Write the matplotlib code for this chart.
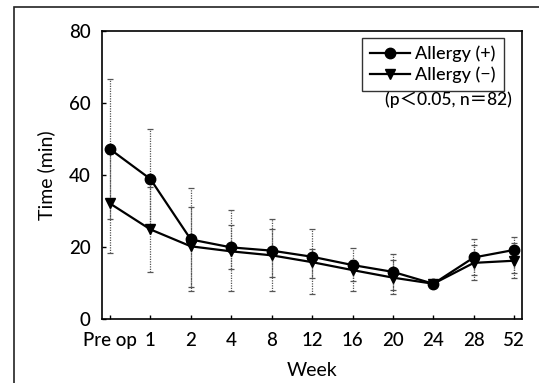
import numpy as np
import matplotlib
matplotlib.use("Agg")
import matplotlib.pyplot as plt
from matplotlib.patches import Rectangle

# data
weeks = ["Pre op", "1", "2", "4", "8", "12", "16", "20", "24", "28", "52"]

pos_mean = [47.2, 38.9, 22.1, 19.9, 19.0, 17.3, 15.0, 13.1, 9.8, 17.1, 19.2]
pos_low = [27.8, 25.0, 7.9, 7.9, 7.9, 6.9, 7.9, 8.0, 9.8, 12.2, 12.7]
pos_high = [66.6, 52.8, 36.3, 30.3, 27.8, 24.9, 19.6, 18.2, 9.8, 22.1, 22.9]

neg_mean = [32.1, 24.9, 20.2, 18.8, 17.7, 15.8, 13.6, 11.5, 9.8, 15.6, 16.2]
neg_low = [18.4, 13.1, 9.0, 13.9, 11.6, 11.5, 10.5, 6.9, 9.8, 10.8, 11.3]
neg_high = [45.8, 36.7, 31.2, 26.1, 25.0, 19.5, 16.5, 16.5, 9.8, 20.5, 21.2]

plt.rcParams['font.family'] = ['Lato', 'Noto Sans CJK JP', 'DejaVu Sans']
plt.rcParams['font.weight'] = 'medium'

fig = plt.figure(figsize=(5.39, 3.83), dpi=100)
ax = fig.add_axes([0.189, 0.167, 0.78, 0.752])

x = np.arange(len(weeks))


def draw(mean, low, high, marker, label):
    mean = np.array(mean)
    yerr = [mean - np.array(low), np.array(high) - mean]
    eb = ax.errorbar(x, mean, yerr=yerr, fmt="none", ecolor="#555555",
                     elinewidth=0.9, capsize=2.2, capthick=0.9, zorder=1)
    for c in eb[2]:
        c.set_linestyle((0, (1, 1)))
    ax.plot(x, mean, color="black", lw=1.6, marker=marker, ms=7.5,
            label=label, zorder=3)


draw(pos_mean, pos_low, pos_high, "o", "Allergy (+)")
draw(neg_mean, neg_low, neg_high, "v", "Allergy (−)")

ax.set_xlim(-0.2, 10.2)
ax.set_ylim(0, 80)
ax.set_yticks([0, 20, 40, 60, 80])
ax.set_xticks(x)
ax.set_xticklabels(weeks)
ax.tick_params(direction="in", length=3, width=1, labelsize=13.5, pad=9)
ax.tick_params(axis="y", pad=8)
for s in ax.spines.values():
    s.set_linewidth(1.2)

ax.set_xlabel("Week", fontsize=14, labelpad=10)
ax.set_ylabel("Time (min)", fontsize=14, labelpad=10)

leg = ax.legend(loc="upper right", bbox_to_anchor=(0.965, 0.99), fontsize=13,
                frameon=True, fancybox=False, edgecolor="black",
                handlelength=2.2, borderpad=0.45, labelspacing=0.25,
                handletextpad=0.3, borderaxespad=0.2)
leg.get_frame().set_linewidth(1.0)

ax.text(0.975, 0.76, "(p＜0.05, n＝82)", transform=ax.transAxes,
        ha="right", va="center", fontsize=12.5)

# outer frame
fig.add_artist(Rectangle((13.7 / 539, -0.1), 1.2, 1.1 - 6.7 / 383,
                         transform=fig.transFigure, fill=False,
                         edgecolor="#222222", lw=1.2))

fig.savefig("out.png", dpi=100)
